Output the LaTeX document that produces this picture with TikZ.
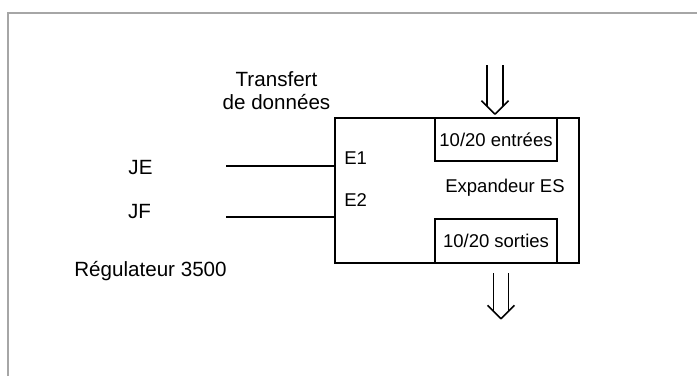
\documentclass[tikz,border=0pt]{standalone}
\usepackage{fontspec}
\setmainfont{Liberation Sans}
\usepackage{tikz}
\usetikzlibrary{calc,positioning}

\begin{document}
\begin{tikzpicture}[x=1pt,y=1pt,line width=1.6pt,
    lbl/.style={inner sep=0pt,font=\fontsize{20.6}{23}\selectfont},
    boxlbl/.style={inner sep=0pt,font=\fontsize{18.5}{21}\selectfont},
    blk/.style={draw,inner sep=0pt,font=\fontsize{18.5}{21}\selectfont}]
    \useasboundingbox (0,0) rectangle (697,376);
    \draw[black!35,line width=1.6pt] (8,0) -- (8,363) -- (697,363);

    \node[blk,minimum width=244,minimum height=145] (expander) at (457,185.5) {};
    \node[blk,minimum width=122,minimum height=43] (entrees) at (496,236.5) {10/20 entrées};
    \node[blk,minimum width=122,minimum height=44] (sorties) at (496,135) {10/20 sorties};
    \node[boxlbl,anchor=base] (expname) at (505,184) {Expandeur ES};
    \node[boxlbl,anchor=base] (e1) at (355.7,212) {E1};
    \node[boxlbl,anchor=base] (e2) at (355.7,169.3) {E2};

    \node[lbl,align=center] (transfert) at (276.5,285.5) {Transfert\\de données};
    \node[lbl,anchor=base] (je) at (140.5,202) {JE};
    \node[lbl,anchor=base] (jf) at (139.5,158) {JF};
    \node[lbl,anchor=base] (regul) at (150.5,99.3) {Régulateur 3500};

    \coordinate (jeEnd) at (226,210);
    \coordinate (jfEnd) at (226,159);
    \draw (jeEnd) -- (jeEnd -| expander.west);
    \draw (jfEnd) -- (jfEnd -| expander.west);

    % entrees / sorties
    \coordinate (inTip) at ([xshift=-1,yshift=3]entrees.north);
    \draw (inTip) -- ++(-13.5,13.5) (inTip) -- ++(13.5,13.5);
    \draw ($(inTip)+(-8,8)$) -- ++(0,41) ($(inTip)+(8,8)$) -- ++(0,41);
    \coordinate (outTip) at ([xshift=5,yshift=-55]sorties.south);
    \draw (outTip) -- ++(-13.5,13.5) (outTip) -- ++(13.5,13.5);
    \draw ($(outTip)+(-7.5,7.5)$) -- ++(0,38) ($(outTip)+(7.5,7.5)$) -- ++(0,38);
\end{tikzpicture}
\end{document}
